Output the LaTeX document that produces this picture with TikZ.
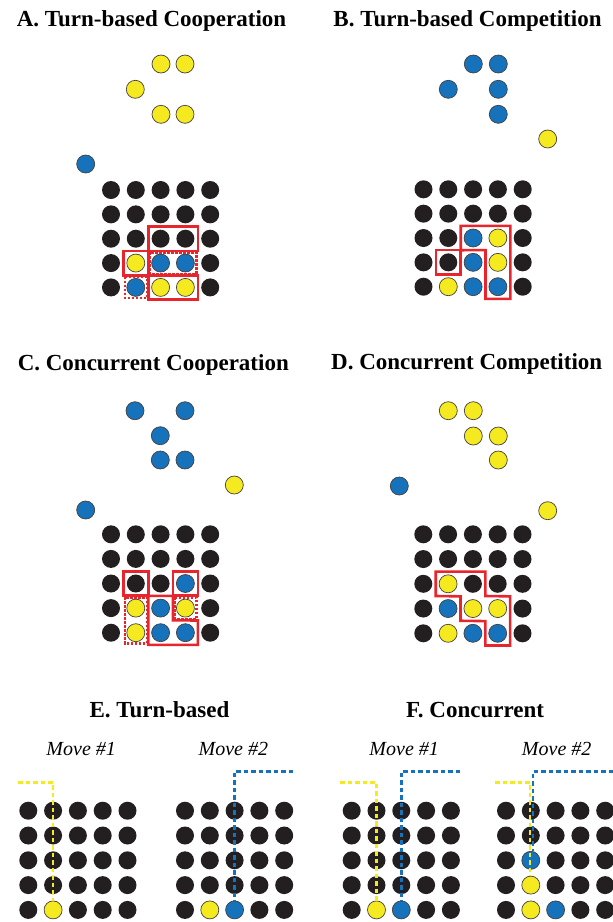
\documentclass[tikz,border=0pt]{standalone}
\usepackage{fontspec}
\setmainfont{Liberation Serif}
\usetikzlibrary{calc}
\definecolor{pyel}{RGB}{245,233,32}
\definecolor{pblu}{RGB}{22,114,186}
\definecolor{pblk}{RGB}{35,31,32}
\definecolor{pred}{RGB}{232,36,44}
\tikzset{
 piece/.style={circle, minimum size=18pt, inner sep=0pt, outer sep=0pt},
 pK/.style={piece, fill=pblk},
 pY/.style={piece, fill=pyel, draw=pblk!85, line width=0.7pt},
 pB/.style={piece, fill=pblu, draw=pblk!85, line width=0.7pt},
 solidbox/.style={draw=pred, line width=2.6pt, line join=miter},
 dotbox/.style={draw=pred, line width=2.4pt, dash pattern=on 2.4pt off 1.6pt},
 title/.style={font=\fontsize{23}{25}\selectfont\bfseries, anchor=base, inner sep=0pt},
 movelab/.style={font=\fontsize{20}{22}\selectfont\itshape, anchor=base, inner sep=0pt},
 ydash/.style={draw=pyel, line width=2.5pt, dash pattern=on 4.5pt off 3pt},
 bdash/.style={draw=pblu, line width=2.5pt, dash pattern=on 4.5pt off 3pt},
}
\def\h{12.4}\def\v{12.2}\def\hh{10.9}\def\vv{10.7}
\newcommand{\board}[5]{%
  \foreach \s [count=\k from 0] in {#5} {
    \pgfmathtruncatemacro{\rr}{div(\k,5)+1}
    \pgfmathtruncatemacro{\cc}{mod(\k,5)+1}
    \node[p\s] (#1-\rr-\cc) at ({#2+(\cc-1)*24.8},{#3+(\rr-1)*#4}) {};
  }}
\begin{document}
\begin{tikzpicture}[x=1pt,y=-1pt]
\useasboundingbox (0,0) rectangle (613,922);

% ---------------- A
\node[title] (tA) at (151.5,26.7) {A. Turn-based Cooperation};
\node[pY] (A-f1) at (161,64) {};
\node[pY] (A-f2) at (185,64) {};
\node[pY] (A-f3) at (135.3,89.3) {};
\node[pY] (A-f4) at (161,114.3) {};
\node[pY] (A-f5) at (185,114.3) {};
\node[pB] (A-f6) at (85.7,164) {};
\board{A}{111}{190}{24.35}{K,K,K,K,K, K,K,K,K,K, K,K,K,K,K, K,Y,B,B,K, K,B,Y,Y,K}
\draw[solidbox] ($(A-3-3)+(-\h,-\v)$) rectangle ($(A-3-4)+(\h,\v)$);
\draw[solidbox] ($(A-4-2)+(-\h,-\v)$) rectangle ($(A-4-2)+(\h,\v)$);
\draw[solidbox] ($(A-5-3)+(-\h,-\v)$) rectangle ($(A-5-4)+(\h,\v)$);
\draw[dotbox] ($(A-4-3)+(-\hh,-\vv)$) rectangle ($(A-4-4)+(\hh,\vv)$);
\draw[dotbox] ($(A-5-2)+(-\hh,-\vv)$) rectangle ($(A-5-2)+(\hh,\vv)$);

% ---------------- B
\node[title] (tB) at (467.5,26.3) {B. Turn-based Competition};
\node[pB] (B-f1) at (473.3,64) {};
\node[pB] (B-f2) at (498.3,64) {};
\node[pB] (B-f3) at (448.3,89.3) {};
\node[pB] (B-f4) at (498.3,89.3) {};
\node[pB] (B-f5) at (498.3,114.3) {};
\node[pY] (B-f6) at (547.7,139) {};
\board{B}{423.5}{189.3}{24.35}{K,K,K,K,K, K,K,K,K,K, K,K,B,Y,K, K,K,B,Y,K, K,Y,B,B,K}
\draw[solidbox] ($(B-4-2)+(-\h,-\v)$) rectangle ($(B-4-2)+(\h,\v)$);
\draw[solidbox] ($(B-3-3)+(-\h,-\v)$) -- ($(B-3-4)+(\h,-\v)$) -- ($(B-5-4)+(\h,\v)$)
  -- ($(B-5-4)+(-\h,\v)$) -- ($(B-4-4)+(-\h,-\v)$) -- ($(B-3-3)+(-\h,\v)$) -- cycle;

% ---------------- C
\node[title] (tC) at (153.3,370) {C. Concurrent Cooperation};
\node[pB] (C-f1) at (135,410.7) {};
\node[pB] (C-f2) at (185,410.7) {};
\node[pB] (C-f3) at (160.3,435.7) {};
\node[pB] (C-f4) at (160.3,460) {};
\node[pB] (C-f5) at (185,460) {};
\node[pY] (C-f6) at (234.3,485) {};
\node[pB] (C-f7) at (85.7,510) {};
\board{C}{111}{534.3}{24.6}{K,K,K,K,K, K,K,K,K,K, K,K,K,B,K, K,Y,B,Y,K, K,Y,B,B,K}
\draw[solidbox] ($(C-3-2)+(-\h,-\v)$) rectangle ($(C-3-2)+(\h,\v)$);
\draw[solidbox] ($(C-3-4)+(-\h,-\v)$) rectangle ($(C-3-4)+(\h,\v)$);
\draw[solidbox] ($(C-4-3)+(-\h,-\v)$) -- ($(C-4-4)+(-\h,-\v)$) -- ($(C-4-4)+(-\h,\v)$)
  -- ($(C-5-4)+(\h,-\v)$) -- ($(C-5-4)+(\h,\v)$) -- ($(C-5-3)+(-\h,\v)$) -- cycle;
\draw[dotbox] ($(C-4-2)+(-\hh,-\vv)$) rectangle ($(C-5-2)+(\hh,\vv)$);
\draw[dotbox] ($(C-4-4)+(-\hh,-\vv)$) rectangle ($(C-4-4)+(\hh,\vv)$);

% ---------------- D
\node[title] (tD) at (466.7,369.3) {D. Concurrent Competition};
\node[pY] (D-f1) at (448.3,410.7) {};
\node[pY] (D-f2) at (473.3,410.7) {};
\node[pY] (D-f3) at (473.3,436) {};
\node[pY] (D-f4) at (498.3,436) {};
\node[pY] (D-f5) at (498.3,460) {};
\node[pB] (D-f6) at (399.3,486) {};
\node[pY] (D-f7) at (547.7,510.7) {};
\board{D}{423.3}{534.3}{24.75}{K,K,K,K,K, K,K,K,K,K, K,Y,K,K,K, K,B,Y,Y,K, K,Y,B,B,K}
\draw[solidbox] ($(D-3-2)+(-\h,-\v)$) -- ($(D-3-3)+(\h,-\v)$) -- ($(D-3-3)+(\h,\v)$)
  -- ($(D-4-4)+(\h,-\v)$) -- ($(D-5-4)+(\h,\v)$) -- ($(D-5-4)+(-\h,\v)$)
  -- ($(D-5-4)+(-\h,-\v)$) -- ($(D-4-3)+(-\h,\v)$) -- ($(D-4-3)+(-\h,-\v)$)
  -- ($(D-3-2)+(-\h,\v)$) -- cycle;

% ---------------- E
\node[title] (tE) at (159.5,717.3) {E. Turn-based};
\node[movelab] (mE1) at (81.2,755.5) {Move \#1};
\node[movelab] (mE2) at (233.3,755.5) {Move \#2};
\board{E1}{28.3}{810.7}{24.8}{K,K,K,K,K, K,K,K,K,K, K,K,K,K,K, K,K,K,K,K, K,Y,K,K,K}
\board{E2}{185}{810.7}{24.8}{K,K,K,K,K, K,K,K,K,K, K,K,K,K,K, K,K,K,K,K, K,Y,B,K,K}
\coordinate (E1y) at (18.3,782.7);
\coordinate (E2b) at (293.3,771.3);
\draw[ydash] (E1y) -| (E1-5-2.north);
\draw[bdash] (E2b) -| (E2-5-3.north);

% ---------------- F
\node[title] (tF) at (475,717.3) {F. Concurrent};
\node[movelab] (mF1) at (404.2,755.5) {Move \#1};
\node[movelab] (mF2) at (556.7,755.5) {Move \#2};
\board{F1}{351.7}{810.7}{24.8}{K,K,K,K,K, K,K,K,K,K, K,K,K,K,K, K,K,K,K,K, K,Y,B,K,K}
\board{F2}{506}{810.7}{24.8}{K,K,K,K,K, K,K,K,K,K, K,B,K,K,K, K,Y,K,K,K, K,Y,B,K,K}
\coordinate (F1y) at (340,782.7);
\coordinate (F1b) at (460,771.3);
\coordinate (F2y) at (495,782.7);
\coordinate (F2b) at (613,771.3);
\draw[bdash] (F1b) -| (F1-5-3.north);
\draw[ydash] (F1y) -| (F1-5-2.north);
\draw[bdash] (F2b) -| ($(F2-3-2.north)+(2,0)$);
\draw[ydash] (F2y) -| ($(F2-4-2.north)+(-0.8,0)$);
\end{tikzpicture}
\end{document}
